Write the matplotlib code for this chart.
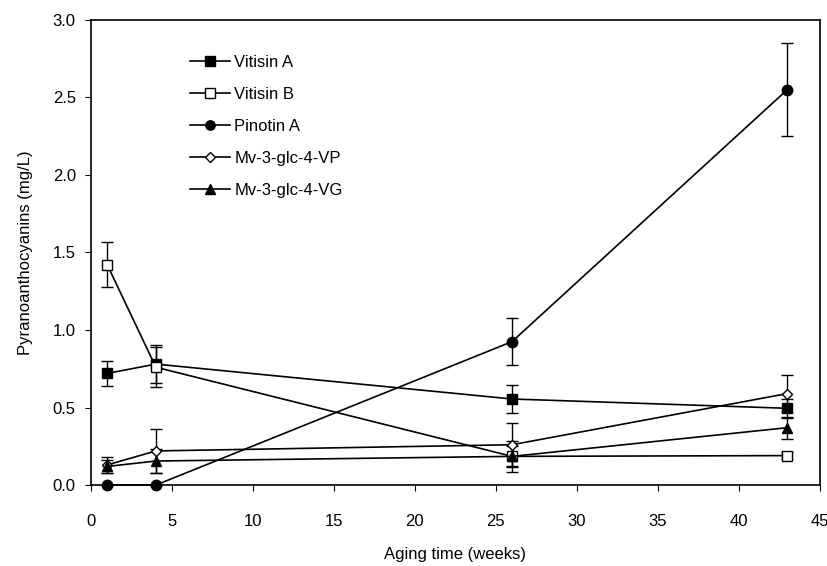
import numpy as np
import matplotlib
matplotlib.use('Agg')
from matplotlib import pyplot as plt

plt.rcParams['font.family'] = ['Liberation Sans', 'DejaVu Sans']

weeks = [1, 4, 26, 43]

vitisin_a = [0.72, 0.78, 0.555, 0.495]
vitisin_a_err = [0.08, 0.12, 0.09, 0.06]
vitisin_b = [1.42, 0.76, 0.185, 0.19]
vitisin_b_err = [0.145, 0.13, 0.07, 0.02]
pinotin_a = [0.0, 0.0, 0.925, 2.55]
pinotin_a_err = [0.0, 0.0, 0.15, 0.30]
mv_vp = [0.13, 0.22, 0.26, 0.59]
mv_vp_err = [0.05, 0.14, 0.14, 0.12]
mv_vg = [0.12, 0.155, 0.185, 0.37]
mv_vg_err = [0.04, 0.08, 0.10, 0.07]

series = [
    ('Vitisin A', vitisin_a, vitisin_a_err, 's', 'black'),
    ('Vitisin B', vitisin_b, vitisin_b_err, 's', 'white'),
    ('Pinotin A', pinotin_a, pinotin_a_err, 'o', 'black'),
    ('Mv-3-glc-4-VP', mv_vp, mv_vp_err, 'D', 'white'),
    ('Mv-3-glc-4-VG', mv_vg, mv_vg_err, '^', 'black'),
]

fig = plt.figure(figsize=(8.28, 5.66), dpi=100)
ax = fig.add_axes([0.110, 0.143, 0.880, 0.822])

for name, vals, errs, mk, fc in series:
    ms = 5.5 if mk == 'D' else 7.5
    ax.errorbar(weeks, vals, yerr=errs, color='black', marker=mk, markersize=ms,
                markerfacecolor=fc, markeredgecolor='black', markeredgewidth=1.0,
                linewidth=1.2, elinewidth=1.0, capsize=4, capthick=1.0,
                label=name, clip_on=False)

ax.set_xlim(0, 45)
ax.set_ylim(0, 3.0)
ax.set_xticks(np.arange(0, 46, 5))
ax.set_yticks(np.arange(0, 3.01, 0.5))
ax.set_yticklabels(['%.1f' % v for v in np.arange(0, 3.01, 0.5)])
ax.tick_params(direction='out', length=4, labelsize=12)
ax.tick_params(axis='x', pad=17)
ax.tick_params(axis='y', pad=7)
ax.set_xlabel('Aging time (weeks)', fontsize=12, labelpad=13)
ax.set_ylabel('Pyranoanthocyanins (mg/L)', fontsize=12, labelpad=14)
for sp in ax.spines.values():
    sp.set_linewidth(1.2)

handles, labels = ax.get_legend_handles_labels()
handles = [h[0] for h in handles]
ax.legend(handles, labels, loc='upper left', bbox_to_anchor=(0.136, 0.925),
          frameon=False, fontsize=12, handlelength=2.4, labelspacing=1.02,
          handletextpad=0.25, borderpad=0, borderaxespad=0, markerscale=0.9)

fig.savefig('out.png', dpi=100)
